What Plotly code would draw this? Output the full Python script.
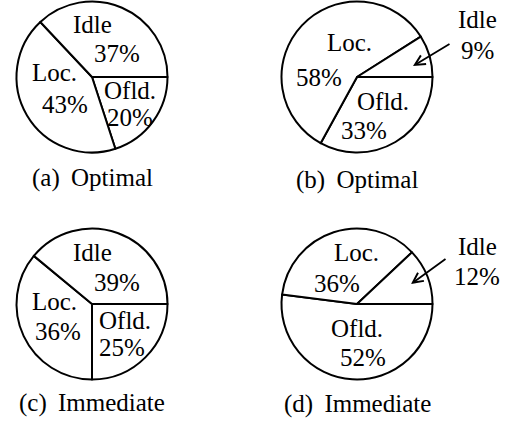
import plotly.graph_objects as go

W, H = 511, 423

categories = ["Idle", "Loc.", "Ofld."]
values_a = [37, 43, 20]
values_b = [9, 58, 33]
values_c = [39, 36, 25]
values_d = [12, 36, 52]
captions = ["(a)\u2009 Optimal", "(b)\u2009 Optimal", "(c)\u2009 Immediate", "(d)\u2009 Immediate"]
all_values = [values_a, values_b, values_c, values_d]

FONT = dict(family="Liberation Serif, Times New Roman, serif", size=25, color="black")

# layout (pixel centers / radius of each pie)
centers = [(92, 77), (357, 77), (92, 304), (357, 304)]
R = 75.5

# text placement for each pie: per category (name position, percent position)
label_pos = [
    {"Idle": ((92, 25), (117, 54)), "Loc.": ((54, 72), (65, 104)), "Ofld.": ((130, 91), (130, 117))},
    {"Idle": ((477, 20), (477, 51)), "Loc.": ((349, 42), (319, 77)), "Ofld.": ((383, 101), (364, 130))},
    {"Idle": ((92, 252), (117, 282)), "Loc.": ((54, 301), (58, 331)), "Ofld.": ((125, 320), (122, 347))},
    {"Idle": ((477, 247), (477, 276)), "Loc.": ((356, 252), (337, 283)), "Ofld.": ((357, 328), (363, 357))},
]
caption_pos = [(92, 178), (357, 180), (92, 403), (357, 404)]
# arrows for outside labels: (pie index, head, tail)
arrows = [(1, (413, 66), (451, 43)), (3, (411, 284), (447, 258))]


def px(x):
    return x / W


def py(y):
    return 1 - y / H


fig = go.Figure()
for vals, (cx, cy) in zip(all_values, centers):
    # slices drawn clockwise from 3 o'clock in reverse order == counterclockwise Idle, Loc., Ofld.
    fig.add_trace(go.Pie(
        labels=categories[::-1],
        values=vals[::-1],
        sort=False,
        direction="clockwise",
        rotation=90,
        textinfo="none",
        hoverinfo="label+percent",
        marker=dict(colors=["white"] * 3, line=dict(color="black", width=2)),
        domain=dict(x=[px(cx - R), px(cx + R)], y=[py(cy + R), py(cy - R)]),
        showlegend=False,
    ))

annotations = []
for vals, pos in zip(all_values, label_pos):
    for cat, v in zip(categories, vals):
        (nx, ny), (vx, vy) = pos[cat]
        annotations.append(dict(x=px(nx), y=py(ny), xref="paper", yref="paper", text=cat,
                                showarrow=False, font=FONT, xanchor="center", yanchor="middle"))
        annotations.append(dict(x=px(vx), y=py(vy), xref="paper", yref="paper", text=f"{v}%",
                                showarrow=False, font=FONT, xanchor="center", yanchor="middle"))

for cap, (x, y) in zip(captions, caption_pos):
    annotations.append(dict(x=px(x), y=py(y), xref="paper", yref="paper", text=cap,
                            showarrow=False, font=FONT, xanchor="center", yanchor="middle"))

for _, (hx, hy), (tx, ty) in arrows:
    annotations.append(dict(x=px(hx), y=py(hy), xref="paper", yref="paper", text="",
                            showarrow=True, ax=tx - hx, ay=ty - hy, arrowhead=5,
                            arrowsize=1.1, arrowwidth=1.8, arrowcolor="black"))

fig.update_layout(
    width=W, height=H,
    margin=dict(l=0, r=0, t=0, b=0),
    paper_bgcolor="white", plot_bgcolor="white",
    annotations=annotations,
)

fig.write_html("out.html", config={"displayModeBar": False},
               post_script="document.body.style.margin='0';")
